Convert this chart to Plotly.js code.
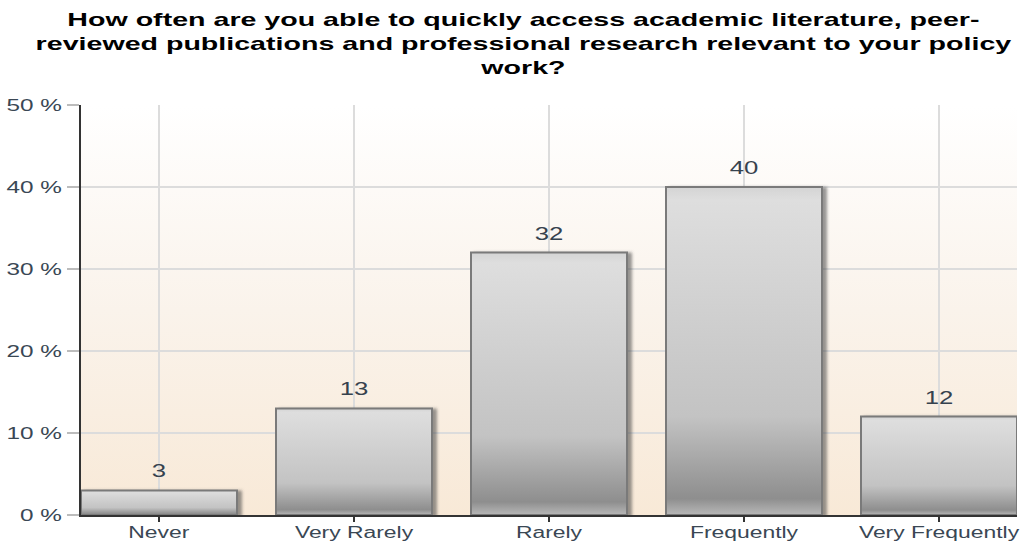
<!DOCTYPE html>
<html><head><meta charset="utf-8">
<script src="https://cdn.plot.ly/plotly-3.0.1.min.js"></script>
<style>
html,body{margin:0;padding:0;background:#fff;}
#chart{width:1022px;height:541px;}
</style>
</head><body><div id="chart"></div>
<script>
const categories = ["Never", "Very Rarely", "Rarely", "Frequently", "Very Frequently"];
const values = [3, 13, 32, 40, 12];
const yTickVals = [0, 10, 20, 30, 40, 50];
const yTickText = ["0 %", "10 %", "20 %", "30 %", "40 %", "50 %"];
const titleText = "How often are you able to quickly access academic literature, peer-<br>reviewed publications and professional research relevant to your policy<br>work?";

const FONT = "Liberation Sans, Arial, sans-serif";
const TEXT_STRETCH = 1.43;      // the reference text is drawn horizontally stretched
const YLABEL_STRETCH = 1.52;
const TITLE_WIDTH = 977;        // widest title line width in the reference (px)

const bgSvg = '<svg xmlns="http://www.w3.org/2000/svg" width="100" height="100" preserveAspectRatio="none"><defs><linearGradient id="g" x1="0" y1="0" x2="0" y2="1"><stop offset="0" stop-color="#ffffff"/><stop offset="0.5" stop-color="#faf3eb"/><stop offset="1" stop-color="#f8e9d7"/></linearGradient></defs><rect width="100" height="100" fill="url(#g)"/></svg>';

const trace = {
  type: "bar",
  x: categories,
  y: values,
  marker: {color: "#c2c2c2", line: {color: "#7a7a7a", width: 2}},
  hoverinfo: "x+y"
};

const annotations = categories.map((c, i) => ({
  x: c, y: values[i], xref: "x", yref: "y",
  text: String(values[i]), showarrow: false,
  yanchor: "bottom", yshift: 7,
  font: {family: FONT, size: 18, color: "#36424e"}
}));

annotations.push({
  xref: "paper", yref: "paper", x: 0.4728, y: 1.238,
  xanchor: "center", yanchor: "top", align: "center",
  showarrow: false,
  text: "<b>" + titleText + "</b>",
  font: {family: FONT, size: 18.5, color: "#000000"}
});

const layout = {
  width: 1022, height: 541,
  margin: {l: 81, r: 5, t: 105, b: 26},
  paper_bgcolor: "#ffffff",
  plot_bgcolor: "rgba(0,0,0,0)",
  bargap: 0.2,
  showlegend: false,
  xaxis: {
    type: "category",
    range: [-0.4, 4.4],
    showgrid: true, gridcolor: "#dcdcdc", gridwidth: 1.5,
    ticks: "outside", ticklen: 5, tickwidth: 2, tickcolor: "#333333",
    ticklabelstandoff: -3,
    showline: true, linecolor: "#333333", linewidth: 2,
    tickfont: {family: FONT, size: 16, color: "#3a4754"},
    fixedrange: true
  },
  yaxis: {
    range: [0, 50],
    tickvals: yTickVals, ticktext: yTickText,
    showgrid: true, gridcolor: "#dcdcdc", gridwidth: 1.5,
    ticks: "outside", ticklen: 12, tickwidth: 1.5, tickcolor: "#bcbcbc",
    showline: true, linecolor: "#333333", linewidth: 2,
    zeroline: false,
    tickfont: {family: FONT, size: 16, color: "#3a4754"},
    ticklabelstandoff: 2,
    fixedrange: true
  },
  images: [{
    source: "data:image/svg+xml;charset=utf-8," + encodeURIComponent(bgSvg),
    xref: "paper", yref: "paper", x: 0, y: 1, sizex: 1, sizey: 1,
    xanchor: "left", yanchor: "top", sizing: "stretch", layer: "below"
  }],
  annotations: annotations
};

const NS = "http://www.w3.org/2000/svg";

function stretchText(el, s) {
  const bb = el.getBBox();
  const anchor = el.getAttribute("text-anchor") || "start";
  let px = bb.x + bb.width / 2;
  if (anchor === "end") px = bb.x + bb.width;
  else if (anchor === "start") px = bb.x;
  const prev = el.getAttribute("transform") || "";
  el.setAttribute("transform", (prev + " translate(" + px + " 0) scale(" + s + " 1) translate(" + (-px) + " 0)").trim());
}

function decorate(gd) {
  const svg = gd.querySelector("svg.main-svg");
  let defs = svg.querySelector("defs");
  if (!defs) { defs = document.createElementNS(NS, "defs"); svg.insertBefore(defs, svg.firstChild); }
  const grad = document.createElementNS(NS, "linearGradient");
  grad.setAttribute("id", "barGrad");
  grad.setAttribute("x1", "0"); grad.setAttribute("y1", "0");
  grad.setAttribute("x2", "0"); grad.setAttribute("y2", "1");
  [["0", "#d4d4d4"], ["0.04", "#dedede"], ["0.45", "#cdcdcd"], ["0.7", "#c3c3c3"], ["0.95", "#8e8e8e"], ["1", "#b8b8b8"]].forEach(([o, c]) => {
    const st = document.createElementNS(NS, "stop");
    st.setAttribute("offset", o); st.setAttribute("stop-color", c);
    grad.appendChild(st);
  });
  defs.appendChild(grad);
  const filt = document.createElementNS(NS, "filter");
  filt.setAttribute("id", "barShadow");
  filt.setAttribute("x", "-10%"); filt.setAttribute("y", "-10%");
  filt.setAttribute("width", "130%"); filt.setAttribute("height", "130%");
  const ds = document.createElementNS(NS, "feDropShadow");
  ds.setAttribute("dx", "4"); ds.setAttribute("dy", "1");
  ds.setAttribute("stdDeviation", "1.5");
  ds.setAttribute("flood-color", "#444"); ds.setAttribute("flood-opacity", "0.55");
  filt.appendChild(ds);
  defs.appendChild(filt);

  gd.querySelectorAll(".trace.bars .point path").forEach(p => {
    p.style.setProperty("fill", "url(#barGrad)");
    p.style.setProperty("filter", "url(#barShadow)");
  });

  gd.querySelectorAll(".xtick text").forEach(t => stretchText(t, TEXT_STRETCH));
  gd.querySelectorAll(".ytick text").forEach(t => stretchText(t, YLABEL_STRETCH));
  const annTexts = gd.querySelectorAll(".annotation-text");
  annTexts.forEach((t, i) => {
    if (i === annTexts.length - 1) {
      const w = t.getBBox().width;
      stretchText(t, TITLE_WIDTH / w);
    } else {
      stretchText(t, TEXT_STRETCH);
    }
  });
}

Plotly.newPlot("chart", [trace], layout, {displayModeBar: false}).then(decorate);
</script>
</body></html>
